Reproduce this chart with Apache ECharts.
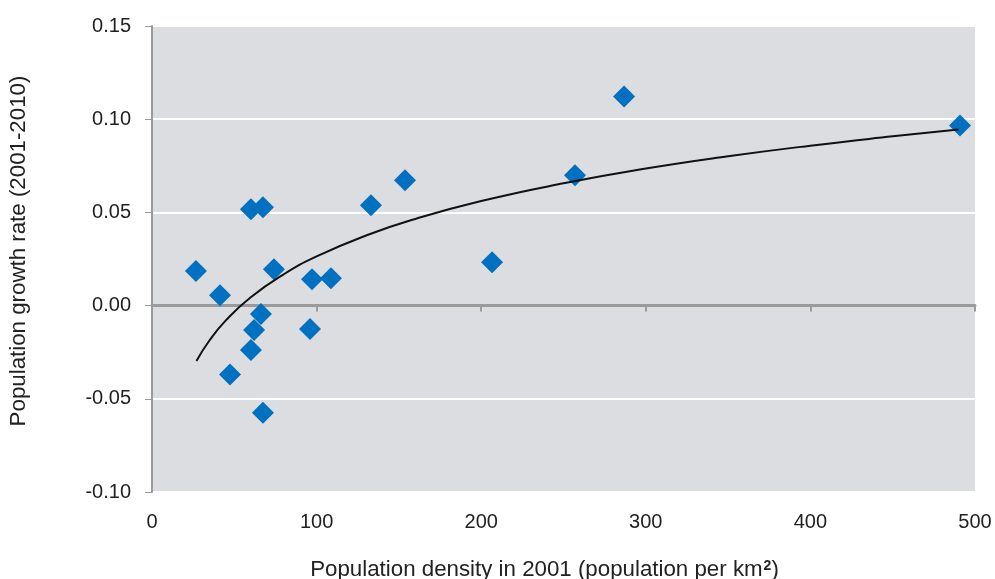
<!DOCTYPE html>
<html>
<head>
<meta charset="utf-8">
<script src="https://cdn.jsdelivr.net/npm/echarts@6/dist/echarts.min.js"></script>
<style>
  html, body { margin: 0; padding: 0; background: #fff; }
  #chart { width: 995px; height: 579px; }
</style>
</head>
<body>
<div id="chart"></div>
<script>
// 散点数据：人口密度 / 增长率
const density = [26.7, 41.3, 47.4, 60.1, 67.4, 60.1, 62.0, 66.2, 67.4, 74.1, 97.2, 96.0, 108.7, 133.0, 153.7, 206.6, 257.0, 286.8, 490.9];
const growth = [0.0185, 0.0056, -0.0370, 0.0517, 0.0527, -0.0238, -0.0131, -0.0045, -0.0575, 0.0195, 0.0142, -0.0126, 0.0147, 0.0538, 0.0672, 0.0233, 0.0699, 0.1122, 0.0966];

// 趋势线
const trendX = [27, 35, 45, 60, 80, 100, 130, 160, 200, 250, 300, 350, 400, 450, 490];
const trendY = [-0.0297, -0.0186, -0.0078, 0.0045, 0.0168, 0.0264, 0.0376, 0.0465, 0.0561, 0.0656, 0.0735, 0.0801, 0.0858, 0.0908, 0.0945];

const xTicks = [0, 100, 200, 300, 400, 500];
const yTicks = [-0.10, -0.05, 0.00, 0.05, 0.10, 0.15];

const font = 'Liberation Sans, Arial, sans-serif';
const chart = echarts.init(document.getElementById('chart'));

chart.setOption({
  animation: false,
  grid: {
    left: 152, right: 20, top: 26, bottom: 87,
    outerBoundsMode: 'none',
    show: true, backgroundColor: '#dcdde0', borderWidth: 0
  },
  xAxis: [{
    // 底部刻度标签
    type: 'value',
    min: xTicks[0], max: xTicks[xTicks.length - 1], interval: 100,
    axisLine: {show: false, onZero: false},
    axisTick: {show: false},
    splitLine: {show: false},
    axisLabel: {color: '#222', fontSize: 20, fontFamily: font, margin: 20},
    name: 'Population density in 2001 (population per km{s|2})',
    nameLocation: 'middle',
    nameGap: 67,
    nameTextStyle: {
      color: '#222', fontSize: 22.3, fontFamily: font,
      padding: [0, 38, 0, 0],
      rich: {s: {fontSize: 14, fontWeight: 'bold', fontFamily: font, color: '#222', verticalAlign: 'top', padding: [0, 0, 8, 1]}}
    }
  }, {
    // 0 处的横轴线
    type: 'value',
    min: xTicks[0], max: xTicks[xTicks.length - 1], interval: 100,
    position: 'bottom',
    axisLine: {show: true, onZero: true, lineStyle: {color: '#9a9a9a', width: 3}},
    axisTick: {show: true, length: 6, lineStyle: {color: '#9a9a9a', width: 2}},
    axisLabel: {show: false},
    splitLine: {show: false}
  }],
  yAxis: {
    type: 'value',
    min: yTicks[0], max: yTicks[yTicks.length - 1], interval: 0.05,
    axisLine: {show: true, onZero: false, lineStyle: {color: '#9a9a9a', width: 2}},
    axisTick: {show: true, length: 7, lineStyle: {color: '#9a9a9a', width: 1}},
    splitLine: {show: true, lineStyle: {color: '#ffffff', width: 2}},
    axisLabel: {
      color: '#222', fontSize: 20, fontFamily: font, margin: 21,
      formatter: v => v.toFixed(2)
    },
    name: 'Population growth rate (2001-2010)',
    nameLocation: 'middle',
    nameGap: 122,
    nameTextStyle: {color: '#222', fontSize: 22.3, fontFamily: font, padding: [0, 0, 0, 16]}
  },
  series: [{
    type: 'scatter',
    xAxisIndex: 0,
    symbol: 'diamond',
    symbolSize: 22,
    itemStyle: {color: '#0070c0', opacity: 1},
    data: density.map((d, i) => [d, growth[i]]),
    z: 3
  }, {
    type: 'line',
    xAxisIndex: 0,
    smooth: true,
    showSymbol: false,
    lineStyle: {color: '#111', width: 2},
    data: trendX.map((d, i) => [d, trendY[i]]),
    z: 4
  }]
});
</script>
</body>
</html>
